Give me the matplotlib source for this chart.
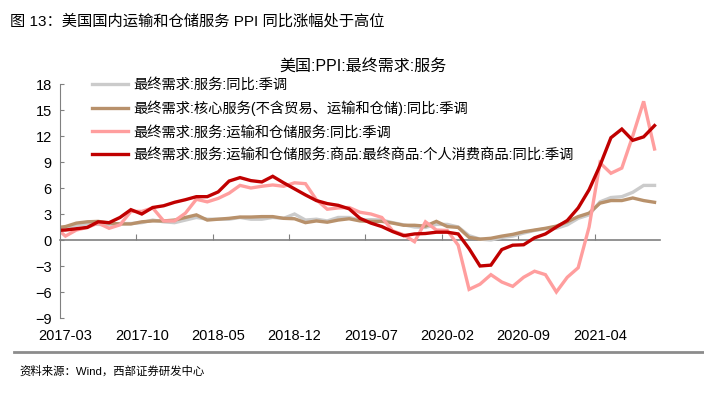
import numpy as np
import pandas as pd
import matplotlib
matplotlib.use("Agg")
import matplotlib.pyplot as plt

plt.rcParams['font.family'] = ['Liberation Sans', 'Noto Sans CJK SC', 'DejaVu Sans']

# monthly categories, 2017-02 .. 2021-09 (first month is clipped by the axis)
months = pd.date_range('2017-02', periods=56, freq='MS').strftime('%Y-%m').tolist()
tick_labels = ['2017-03', '2017-10', '2018-05', '2018-12',
               '2019-07', '2020-02', '2020-09', '2021-04']

services = [1.3, 1.4, 1.7, 1.85, 1.8, 1.75, 1.9, 1.9, 2.0, 2.3, 2.1, 2.0, 2.3, 2.6,
            2.4, 2.4, 2.4, 2.6, 2.4, 2.4, 2.6, 2.5, 3.0, 2.3, 2.4, 2.2, 2.6, 2.6,
            2.3, 2.35, 2.3, 2.0, 1.75, 1.5, 1.45, 1.8, 1.8, 1.5, 0.5, 0.1, 0.0, 0.3,
            0.45, 0.8, 1.1, 1.3, 1.35, 1.75, 2.5, 2.9, 4.4, 4.9, 5.0, 5.5, 6.3, 6.3]
core_services = [1.4, 1.55, 1.95, 2.1, 2.15, 1.95, 1.85, 1.85, 2.1, 2.2, 2.2, 2.3, 2.6, 2.9,
                 2.3, 2.4, 2.5, 2.65, 2.65, 2.7, 2.7, 2.5, 2.45, 2.0, 2.2, 2.05, 2.3, 2.45,
                 2.2, 2.15, 2.15, 1.95, 1.7, 1.7, 1.6, 2.15, 1.55, 1.45, 0.3, 0.1, 0.2, 0.45,
                 0.65, 0.95, 1.15, 1.35, 1.6, 2.1, 2.7, 3.1, 4.25, 4.55, 4.55, 4.85, 4.55, 4.35]
transport = [1.55, 0.45, 1.15, 1.45, 1.95, 1.35, 1.75, 3.3, 3.3, 3.7, 2.2, 2.2, 3.1, 4.7,
             4.4, 4.8, 5.4, 6.3, 6.0, 6.2, 6.35, 6.2, 6.6, 6.5, 4.65, 3.55, 3.7, 3.75,
             3.2, 3.0, 2.6, 1.05, 0.6, -0.2, 2.1, 1.15, 1.1, -0.6, -5.7, -5.1, -4.0, -4.85,
             -5.35, -4.3, -3.6, -4.0, -6.0, -4.3, -3.2, 1.5, 8.9, 7.7, 8.3, 12.0, 16.0, 10.5]
transport_goods = [1.1, 1.15, 1.3, 1.45, 2.1, 2.0, 2.6, 3.5, 3.0, 3.75, 3.95, 4.35, 4.65, 5.0,
                   5.0, 5.55, 6.8, 7.2, 6.85, 6.7, 7.35, 6.6, 5.9, 5.2, 4.55, 4.2, 4.0, 3.6,
                   2.5, 1.95, 1.55, 0.97, 0.5, 0.7, 0.75, 0.9, 0.9, 0.7, -1.0, -3.0, -2.9, -1.1,
                   -0.6, -0.55, 0.25, 0.7, 1.5, 2.25, 3.7, 5.8, 8.6, 11.8, 12.8, 11.5, 11.9, 13.2]

series = [
    ('最终需求:服务:同比:季调', services, '#CBCBCB'),
    ('最终需求:核心服务(不含贸易、运输和仓储):同比:季调', core_services, '#B8916B'),
    ('最终需求:服务:运输和仓储服务:同比:季调', transport, '#FF9E9E'),
    ('最终需求:服务:运输和仓储服务:商品:最终商品:个人消费商品:同比:季调', transport_goods, '#C00000'),
]

x = np.arange(len(months)) - 1  # index 0 = 2017-03

fig = plt.figure(figsize=(7.04, 3.93), dpi=100)
ax = fig.add_axes([60 / 704, 1 - 318 / 393, 600 / 704, 234 / 393])

for name, vals, col in series:
    ax.plot(x, vals, color=col, lw=2.4, label=name, solid_joinstyle='miter')

ax.set_xlim(-0.5, len(months) - 1.5)
ax.set_ylim(-9, 18)
ax.set_yticks(np.arange(-9, 19, 3))
ax.tick_params(axis='y', direction='in', length=3, color='#808080', labelsize=10.5, pad=6)

# labels at month positions
label_pos = [months.index(m) - 1 for m in tick_labels]
ax.set_xticks(label_pos)
ax.set_xticklabels(tick_labels)
ax.tick_params(axis='x', length=0, labelsize=10.5, pad=8)

for s in ['top', 'right', 'bottom']:
    ax.spines[s].set_visible(False)
ax.spines['left'].set_color('#808080')

# zero line with tick marks between categories
sec = ax.secondary_xaxis(9 / 27)
sec.set_xticks([p - 0.5 for p in label_pos[1:]])
sec.tick_params(direction='in', length=4, color='#808080', labelbottom=False)
sec.spines['bottom'].set_color('#808080')
sec.spines['bottom'].set_linewidth(1.2)

leg = ax.legend(loc='upper left', bbox_to_anchor=(0.043, 1.05), frameon=False,
                fontsize=10.3, handlelength=2.55, handletextpad=0.35, labelspacing=0.62,
                borderaxespad=0)

fig.text(0.515, 0.832, '美国:PPI:最终需求:服务', ha='center', va='center', fontsize=11.5)
fig.text(0.014, 0.945, '图 13：美国国内运输和仓储服务 PPI 同比涨幅处于高位',
         ha='left', va='center', fontsize=11)
fig.add_artist(plt.Line2D([0.02, 1.0], [1 - 352 / 393] * 2, color='#8C8C8C', lw=2))
fig.text(0.028, 1 - 371 / 393, '资料来源：Wind，西部证券研发中心', ha='left', va='center',
         fontsize=8.2)

fig.savefig('out.png', dpi=100)
